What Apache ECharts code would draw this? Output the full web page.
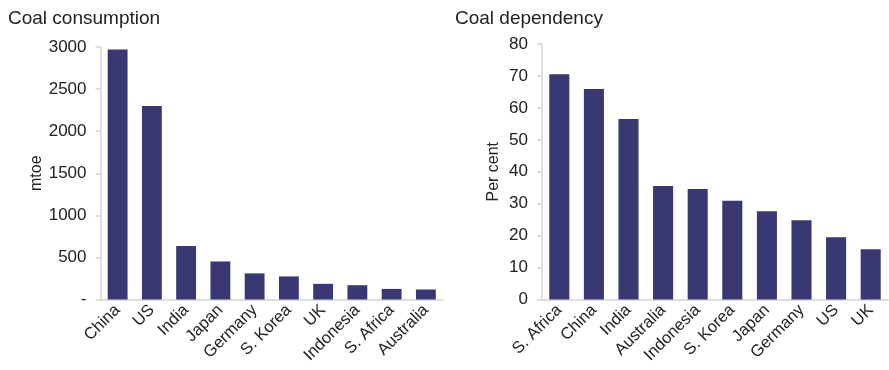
<!DOCTYPE html>
<html>
<head>
<meta charset="utf-8">
<script src="https://cdn.jsdelivr.net/npm/echarts@6/dist/echarts.min.js"></script>
<style>
  html, body { margin: 0; padding: 0; background: #fff; }
  #chart { width: 889px; height: 370px; }
</style>
</head>
<body>
<div id="chart"></div>
<script>
var chart = echarts.init(document.getElementById('chart'));

// left panel: coal consumption, mtoe
var consumptionCountries = ['China', 'US', 'India', 'Japan', 'Germany', 'S. Korea', 'UK', 'Indonesia', 'S. Africa', 'Australia'];
var consumptionValues = [2970, 2300, 635, 452, 310, 274, 186, 170, 126, 119];

// right panel: coal dependency, per cent
var dependencyCountries = ['S. Africa', 'China', 'India', 'Australia', 'Indonesia', 'S. Korea', 'Japan', 'Germany', 'US', 'UK'];
var dependencyValues = [70.5, 65.9, 56.5, 35.5, 34.6, 30.9, 27.6, 24.8, 19.5, 15.7];

var barColor = '#393872';
var textColor = '#222';
var lineColor = '#d4d4d4';
var font = 'Liberation Sans, Arial, sans-serif';

function catAxis(idx, cats) {
    return {
        type: 'category',
        gridIndex: idx,
        data: cats,
        axisLine: { lineStyle: { color: lineColor, width: 1.5 } },
        axisTick: { show: false },
        axisLabel: {
            rotate: 45,
            interval: 0,
            margin: 8,
            color: textColor,
            fontSize: 16.5,
            fontFamily: font
        }
    };
}

function valAxis(idx, max, interval, name, gap, fmt) {
    return {
        type: 'value',
        gridIndex: idx,
        min: 0,
        max: max,
        interval: interval,
        name: name,
        nameLocation: 'middle',
        nameGap: gap,
        nameRotate: 90,
        nameTextStyle: { color: textColor, fontSize: 16, fontFamily: font },
        axisLine: { show: true, lineStyle: { color: lineColor, width: 1.5 } },
        axisTick: { show: true, length: 5, lineStyle: { color: lineColor, width: 1.5 } },
        splitLine: { show: false },
        axisLabel: {
            color: textColor,
            fontSize: 17,
            fontFamily: font,
            margin: 14,
            formatter: fmt
        }
    };
}

var option = {
    animation: false,
    title: [
        { text: 'Coal consumption', left: 3, top: 4,
          textStyle: { color: textColor, fontSize: 19, fontWeight: 'normal', fontFamily: font } },
        { text: 'Coal dependency', left: 450, top: 4,
          textStyle: { color: textColor, fontSize: 19, fontWeight: 'normal', fontFamily: font } }
    ],
    grid: [
        { left: 100.5, right: 446, top: 47, bottom: 70.5 },
        { left: 542, right: 1, top: 44, bottom: 70.5 }
    ],
    xAxis: [
        catAxis(0, consumptionCountries),
        catAxis(1, dependencyCountries)
    ],
    yAxis: [
        valAxis(0, 3000, 500, 'mtoe', 56, function (v) { return v === 0 ? '-' : v; }),
        valAxis(1, 80, 10, 'Per cent', 40, function (v) { return v; })
    ],
    series: [
        {
            type: 'bar',
            xAxisIndex: 0,
            yAxisIndex: 0,
            data: consumptionValues,
            barCategoryGap: '42%',
            itemStyle: { color: barColor }
        },
        {
            type: 'bar',
            xAxisIndex: 1,
            yAxisIndex: 1,
            data: dependencyValues,
            barCategoryGap: '42%',
            itemStyle: { color: barColor }
        }
    ]
};

chart.setOption(option);
</script>
</body>
</html>
